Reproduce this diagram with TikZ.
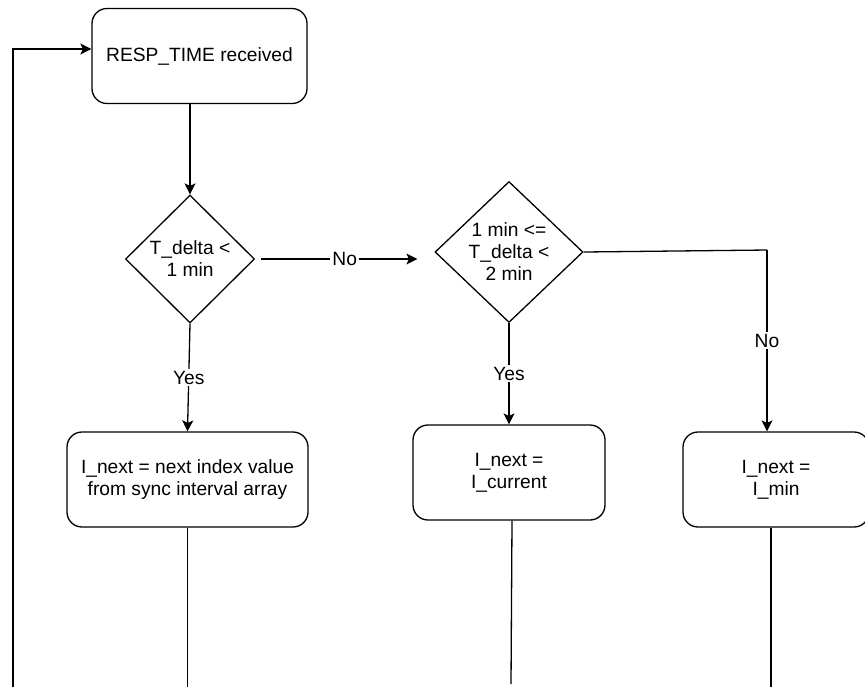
\documentclass[tikz,border=0pt]{standalone}
\usepackage{fontspec}
\setmainfont{Liberation Sans}
\usetikzlibrary{arrows.meta,positioning,shapes.geometric,calc}

\begin{document}
\begin{tikzpicture}[
  x=0.5pt, y=-0.5pt,
  font=\fontsize{9.6}{11}\selectfont,
  line width=0.65pt,
  box/.style={draw, rounded corners=7.5pt, align=center, inner sep=2pt,
              minimum height=47.5pt},
  test/.style={draw, diamond, align=center, inner sep=0pt},
  lbl/.style={fill=white, inner sep=1pt},
  >={Stealth[length=5.5pt, width=5.5pt, inset=1.3pt]},
]
\useasboundingbox (0,0) rectangle (865,687);
\clip (0,0) rectangle (865,687);

\node[box, minimum width=107.5pt] (recv) at (199.5,56) {RESP\_TIME received};
\node[test, minimum width=64.5pt, minimum height=64pt] (lt1) at (190,259)
       {T\_delta <\\ 1 min};
\node[test, minimum width=74pt, minimum height=70.5pt] (lt2) at (509,252)
       {1 min <=\\ T\_delta <\\ 2 min};
\node[box, minimum width=120.5pt] (nextidx) at (187.5,479.5)
       {I\_next = next index value\\ from sync interval array};
\node[box, minimum width=96pt] (keep) at (509,472.5) {I\_next =\\ I\_current};
\node[box, minimum width=93pt] (reset) at (776,479.5) {I\_next =\\ I\_min};

\coordinate (back) at (13,687);
\coordinate (turn) at (767,250);
\coordinate (out1) at (187.5,687);
\coordinate (out2) at (511,684);
\coordinate (out3) at (771,687);

\draw[->] (back) |- ($(recv.west)+(0,-7)$);
\draw[->] (lt1.north |- recv.south) -- (lt1.north);
\draw[->, shorten <=3pt, shorten >=8.5pt] (lt1.east) -- (lt1.east -| lt2.west)
       node[lbl, midway] {No};
\draw[->] (lt1.south) -- (nextidx.north) node[lbl, midway] {Yes};
\draw[->] (lt2.south) -- (keep.north) node[lbl, midway] {Yes};
\draw (lt2.east) -- (turn);
\draw[->] (turn) -- (turn |- reset.north) node[lbl, midway] {No};
\draw (nextidx.south) -- (out1);
\draw ($(keep.south)+(3,0)$) -- (out2);
\draw (out3 |- reset.south) -- (out3);
\end{tikzpicture}
\end{document}
